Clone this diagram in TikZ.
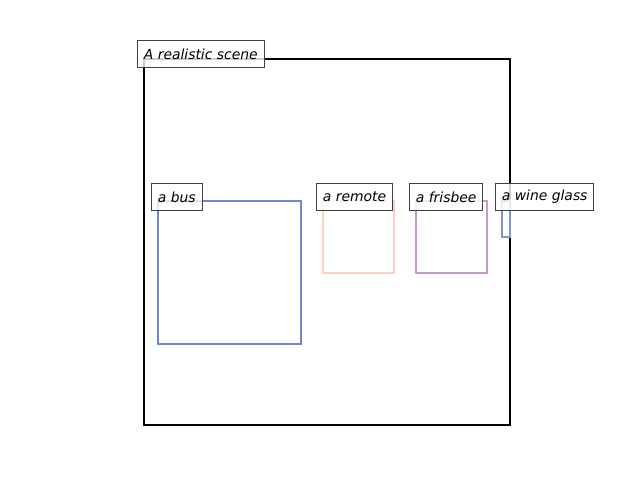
\documentclass[tikz,border=0pt]{standalone}
\usepackage{fontspec}
\setmainfont{DejaVu Sans}
\usetikzlibrary{positioning}
\definecolor{busblue}{RGB}{117,134,208}
\definecolor{remotepink}{RGB}{255,206,198}
\definecolor{frisbeepurple}{RGB}{200,152,206}
\definecolor{glassblue}{RGB}{128,152,200}
\definecolor{taggrey}{RGB}{64,64,64}
\tikzset{
  region/.style = {line width=1.44pt},
  tag/.style    = {rectangle, draw=taggrey, line width=0.75pt, fill=white,
                   fill opacity=0.8, text opacity=1, anchor=west,
                   inner xsep=4.6pt, inner ysep=0pt, minimum height=20pt,
                   font=\itshape},
}

\begin{document}
\begin{tikzpicture}[x=0.72pt, y=-0.72pt]
\useasboundingbox (0,0) rectangle (640,480);

% ---------- Regions ----------
\draw[region, black] (144,59) rectangle (510,425);
\draw[region, busblue] (158,201) rectangle (301,344);
\draw[region, remotepink] (323,201) rectangle (394,273);
\draw[region, frisbeepurple] (416,201) rectangle (487,273);
\draw[region, glassblue] (502,201) rectangle (510,237);

% ---------- Tags ----------
\node[tag] (scene) at (137,54) {A realistic scene};
\node[tag] (bus) at (151,197) {a bus};
\node[tag] (remote) at (316,197) {a remote};
\node[tag] (frisbee) at (409,197) {a frisbee};
\node[tag] (glass) at (495,197) {a wine glass};

\end{tikzpicture}
\end{document}
